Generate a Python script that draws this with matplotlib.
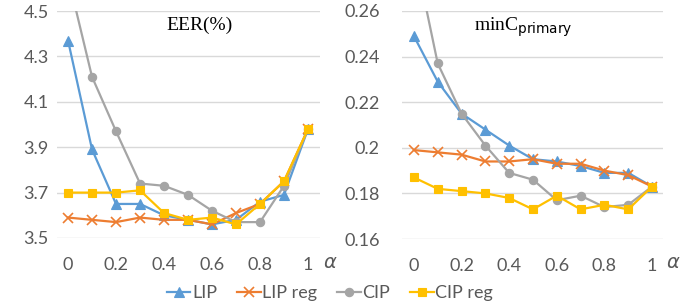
import matplotlib.pyplot as plt

alpha = [0, 0.1, 0.2, 0.3, 0.4, 0.5, 0.6, 0.7, 0.8, 0.9, 1]

# EER(%)
eer_lip = [4.37, 3.89, 3.65, 3.65, 3.60, 3.58, 3.56, 3.58, 3.66, 3.69, 3.98]
eer_lip_reg = [3.59, 3.58, 3.57, 3.59, 3.58, 3.58, 3.56, 3.61, 3.65, 3.75, 3.98]
eer_cip = [4.65, 4.21, 3.97, 3.74, 3.73, 3.69, 3.62, 3.57, 3.57, 3.73, 3.98]
eer_cip_reg = [3.70, 3.70, 3.70, 3.71, 3.61, 3.58, 3.59, 3.56, 3.65, 3.75, 3.98]

# minC_primary
cp_lip = [0.249, 0.229, 0.215, 0.208, 0.201, 0.195, 0.194, 0.192, 0.189, 0.189, 0.183]
cp_lip_reg = [0.199, 0.198, 0.197, 0.194, 0.194, 0.195, 0.193, 0.193, 0.190, 0.188, 0.183]
cp_cip = [0.287, 0.237, 0.215, 0.201, 0.189, 0.186, 0.177, 0.179, 0.174, 0.175, 0.183]
cp_cip_reg = [0.187, 0.182, 0.181, 0.180, 0.178, 0.173, 0.179, 0.173, 0.175, 0.173, 0.183]

names = ["LIP", "LIP reg", "CIP", "CIP reg"]
colors = ["#5B9BD5", "#ED7D31", "#A5A5A5", "#FFC000"]
markers = ["^", "x", "o", "s"]
msizes = [7, 7, 6, 6]

plt.rcParams['font.family'] = ['Lato', 'DejaVu Sans']

fig = plt.figure(figsize=(6.98, 3.04), dpi=100)
ax1 = fig.add_axes([57 / 698, 1 - 238 / 304, 263 / 698, 227 / 304])
ax2 = fig.add_axes([402 / 698, 1 - 239 / 304, 261 / 698, 228 / 304])


def draw(ax, series, ylim, yticks, ylabels, xlim, ypad):
    lines = []
    for vals, name, c, m, ms in zip(series, names, colors, markers, msizes):
        ln, = ax.plot(alpha, vals, color=c, marker=m, markersize=ms, lw=1.6,
                      markeredgewidth=1.2 if m == "x" else 0.8, label=name, zorder=3)
        lines.append(ln)
    ax.set_ylim(*ylim)
    ax.set_xlim(*xlim)
    ax.set_yticks(yticks)
    ax.set_yticklabels(ylabels)
    ax.set_xticks([0, 0.2, 0.4, 0.6, 0.8, 1])
    ax.set_xticklabels(["0", "0.2", "0.4", "0.6", "0.8", "1"])
    for s in ax.spines.values():
        s.set_visible(False)
    ax.grid(axis="y", color="#d9d9d9", lw=1)
    ax.set_axisbelow(True)
    ax.tick_params(length=0, labelsize=13, colors="#595959")
    ax.tick_params(axis="x", pad=14)
    ax.tick_params(axis="y", pad=ypad)
    return lines


lines = draw(ax1, [eer_lip, eer_lip_reg, eer_cip, eer_cip_reg], (3.5, 4.5),
             [3.5, 3.7, 3.9, 4.1, 4.3, 4.5], ["3.5", "3.7", "3.9", "4.1", "4.3", "4.5"],
             (-0.046, 1.05), 6)
draw(ax2, [cp_lip, cp_lip_reg, cp_cip, cp_cip_reg], (0.16, 0.26),
     [0.16, 0.18, 0.2, 0.22, 0.24, 0.26], ["0.16", "0.18", "0.2", "0.22", "0.24", "0.26"],
     (-0.05, 1.046), 16)

fig.text(200 / 698, 1 - 25 / 304, "EER(%)", family="Liberation Serif", fontsize=14,
         ha="center", va="center")
fig.text(523 / 698, 1 - 27 / 304, r"minC$_{\mathrm{primary}}$", family="Liberation Serif",
         fontsize=14, ha="center", va="center")
fig.text(330 / 698, 1 - 262 / 304, r"$\alpha$", fontsize=14, color="#595959",
         ha="center", va="center")
fig.text(673 / 698, 1 - 262 / 304, r"$\alpha$", fontsize=14, color="#595959",
         ha="center", va="center")

fig.legend(handles=lines, loc="center", bbox_to_anchor=(330 / 698, 1 - 293 / 304),
           ncol=4, frameon=False, fontsize=13, handlelength=1.3, handletextpad=0.1,
           columnspacing=1.1, labelcolor="#595959")

fig.savefig("out.png", dpi=100)
